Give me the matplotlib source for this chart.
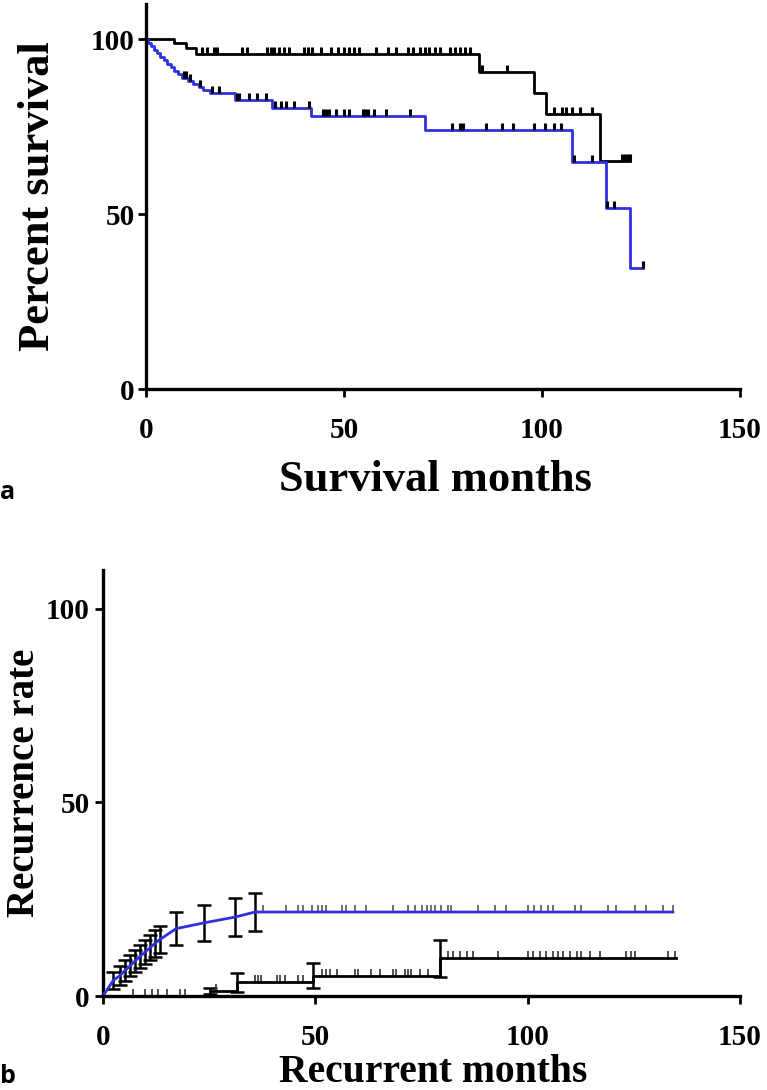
import numpy as np
import matplotlib
matplotlib.use("Agg")
import matplotlib.pyplot as plt

# ---- panel a : survival (Kaplan-Meier) ----
# upper (black) curve
surv_black_t = [0, 7.0, 10.0, 12.6, 84.0, 98.0, 101.0, 114.7, 122.3]
surv_black_v = [100, 98.9, 97.3, 95.6, 90.7, 84.5, 78.5, 65.2, 65.2]
cens_black = [14.1, 15.4, 17.3, 17.9, 24.3, 25.6, 30.6, 31.5, 32.3, 33.6, 34.8, 36.1,
              39.9, 40.8, 42.0, 44.2, 46.7, 48.4, 50.1, 51.3, 52.6, 53.9, 58.1, 61.1,
              63.2, 66.2, 67.4, 69.1, 70.4, 71.6, 72.9, 74.2, 76.7, 78.0, 79.3, 80.5,
              81.8, 84.8, 91.1, 103.0, 105.0, 106.0, 107.6, 109.7, 112.7,
              120.3, 121.0, 121.7, 122.3]

# lower (blue) curve
surv_blue_t = [0, 0.5, 1.2, 2.0, 2.8, 3.6, 4.5, 5.4, 6.3, 7.2, 8.1, 9.0, 10.5, 12.0,
               13.5, 14.5, 16.2, 22.6, 31.8, 41.7, 70.4, 107.6, 116.2, 122.3, 125.4]
surv_blue_v = [100, 99.0, 98.0, 97.0, 96.0, 95.0, 94.0, 93.0, 92.0, 91.0, 90.0, 89.0,
               88.0, 87.2, 86.4, 85.5, 84.6, 82.6, 80.4, 78.1, 74.0, 65.0, 51.7, 34.6, 34.6]
cens_blue = [9.5, 10.0, 11.0, 13.7, 16.7, 18.4, 23.0, 23.6, 26.0, 28.1, 30.2, 32.7, 34.0,
             35.3, 37.4, 41.2, 44.6, 45.5, 46.3, 48.0, 50.1, 51.3, 54.7, 55.4, 56.0,
             57.7, 60.7, 66.6, 77.2, 79.3, 80.0, 86.0, 89.8, 92.8, 97.9, 100.8, 103.0,
             104.7, 108.0, 112.7, 116.5, 118.2, 125.4]

# ---- panel b : cumulative recurrence ----
rec_blue_t = [0, 2.4, 4.0, 5.2, 6.4, 7.5, 8.7, 9.9, 11.1, 12.2, 13.4, 17.2, 23.8, 31.1, 35.8, 134.2]
rec_blue_v = [0, 4.0, 5.3, 6.6, 7.8, 9.0, 10.2, 11.4, 12.5, 13.6, 14.6, 17.4, 18.9, 20.4, 21.7, 21.7]
rec_blue_e = [0, 2.2, 2.4, 2.6, 2.7, 2.8, 2.9, 3.0, 3.2, 3.4, 3.6, 4.3, 4.7, 4.8, 5.0, 0]
rec_blue_cens = [37.7, 43.2, 46.0, 47.1, 49.1, 50.7, 51.5, 52.6, 56.2, 57.3, 59.3, 62.0,
                 68.3, 71.8, 73.4, 75.0, 76.2, 77.3, 78.1, 79.7, 81.2, 82.0, 88.3, 92.2,
                 95.0, 100.1, 101.6, 103.2, 104.8, 106.0, 111.1, 112.6, 118.9, 120.9,
                 125.2, 127.9, 131.8, 134.2]

rec_black_t = [0, 25.2, 31.5, 49.5, 79.3, 135.0]
rec_black_v = [0, 1.2, 3.5, 5.3, 9.7, 9.7]
rec_black_e = [0, 0.8, 2.5, 3.2, 4.8, 0]
rec_black_cens = [7.1, 9.9, 11.5, 13.0, 15.0, 18.1, 19.3, 26.7, 35.8, 36.5, 37.3, 40.9,
                  41.6, 42.8, 46.0, 47.1, 51.5, 52.6, 53.4, 55.0, 59.3, 60.1, 63.2, 65.2,
                  68.3, 69.1, 71.1, 71.8, 72.6, 74.6, 76.5, 81.2, 82.4, 84.0, 85.6, 87.1,
                  93.0, 100.1, 101.3, 102.8, 104.4, 106.0, 107.1, 108.3, 109.9, 111.5,
                  112.6, 114.6, 117.0, 123.2, 124.4, 125.2, 133.0, 134.6]

BLUE = "#3030e0"
SERIF = "Liberation Serif"


def level_at(ts, vs, t):
    # value of a step curve at time t
    i = np.searchsorted(ts, t, side="right") - 1
    return vs[max(i, 0)]


def style_axes(ax, fs):
    for s in ["top", "right"]:
        ax.spines[s].set_visible(False)
    for s in ["left", "bottom"]:
        ax.spines[s].set_linewidth(2.4)
    ax.tick_params(width=2.0, length=6, labelsize=fs)
    for lab in ax.get_xticklabels() + ax.get_yticklabels():
        lab.set_fontfamily(SERIF)
        lab.set_fontweight("bold")


fig = plt.figure(figsize=(7.67, 10.9), dpi=100)

# panel a
ax1 = fig.add_axes([0.1903, 0.6431, 0.7744, 0.3532])
ax1.step(surv_black_t, surv_black_v, where="post", color="black", lw=2.0)
ax1.step(surv_blue_t, surv_blue_v, where="post", color=BLUE, lw=2.0)
ax1.plot(cens_black, [level_at(surv_black_t, surv_black_v, t) for t in cens_black],
         ls="none", marker=2, ms=5, mew=2.2, color="black")
ax1.plot(cens_blue, [level_at(surv_blue_t, surv_blue_v, t) for t in cens_blue],
         ls="none", marker=2, ms=5, mew=2.2, color="black")
ax1.set_xlim(0, 150)
ax1.set_ylim(0, 110)
ax1.set_xticks([0, 50, 100, 150])
ax1.set_yticks([0, 50, 100])
style_axes(ax1, 21)
ax1.tick_params(axis="x", pad=14)
ax1.tick_params(axis="y", pad=2)
ax1.set_xlabel("Survival months", fontfamily=SERIF, fontweight="bold", fontsize=32, labelpad=12)
ax1.xaxis.label.set_x(0.487)
ax1.set_ylabel("Percent survival", fontfamily=SERIF, fontweight="bold", fontsize=32, labelpad=24)
fig.text(0.0, 0.548, "a", fontfamily="Open Sans", fontweight="bold", fontsize=18, va="center")

# panel b
ax2 = fig.add_axes([0.1343, 0.0862, 0.8305, 0.3908])
ax2.plot(rec_blue_t, rec_blue_v, color=BLUE, lw=2.0, zorder=3)
ax2.errorbar(rec_blue_t[1:-1], rec_blue_v[1:-1], yerr=rec_blue_e[1:-1], fmt="none",
             ecolor="black", elinewidth=1.8, capsize=5, capthick=1.8, zorder=2)
ax2.step(rec_black_t, rec_black_v, where="post", color="black", lw=2.0, zorder=3)
ax2.errorbar(rec_black_t[1:-1], rec_black_v[1:-1], yerr=rec_black_e[1:-1], fmt="none",
             ecolor="black", elinewidth=1.8, capsize=5, capthick=1.8, zorder=2)
ax2.plot(rec_blue_cens, [21.7] * len(rec_blue_cens), ls="none", marker=2, ms=5, mew=1.2,
         color="#555555")
ax2.plot(rec_black_cens, [level_at(rec_black_t, rec_black_v, t) for t in rec_black_cens],
         ls="none", marker=2, ms=5, mew=1.2, color="#333333")
ax2.set_xlim(0, 150)
ax2.set_ylim(0, 110)
ax2.set_xticks([0, 50, 100, 150])
ax2.set_yticks([0, 50, 100])
style_axes(ax2, 21)
ax2.tick_params(axis="x", pad=14)
ax2.set_xlabel("Recurrent months", fontfamily=SERIF, fontweight="bold", fontsize=28.5, labelpad=2)
ax2.xaxis.label.set_x(0.518)
ax2.set_ylabel("Recurrence rate", fontfamily=SERIF, fontweight="bold", fontsize=28, labelpad=2)
fig.text(0.0, 0.012, "b", fontfamily="Open Sans", fontweight="bold", fontsize=18, va="center")

fig.savefig("out.png", dpi=100)
